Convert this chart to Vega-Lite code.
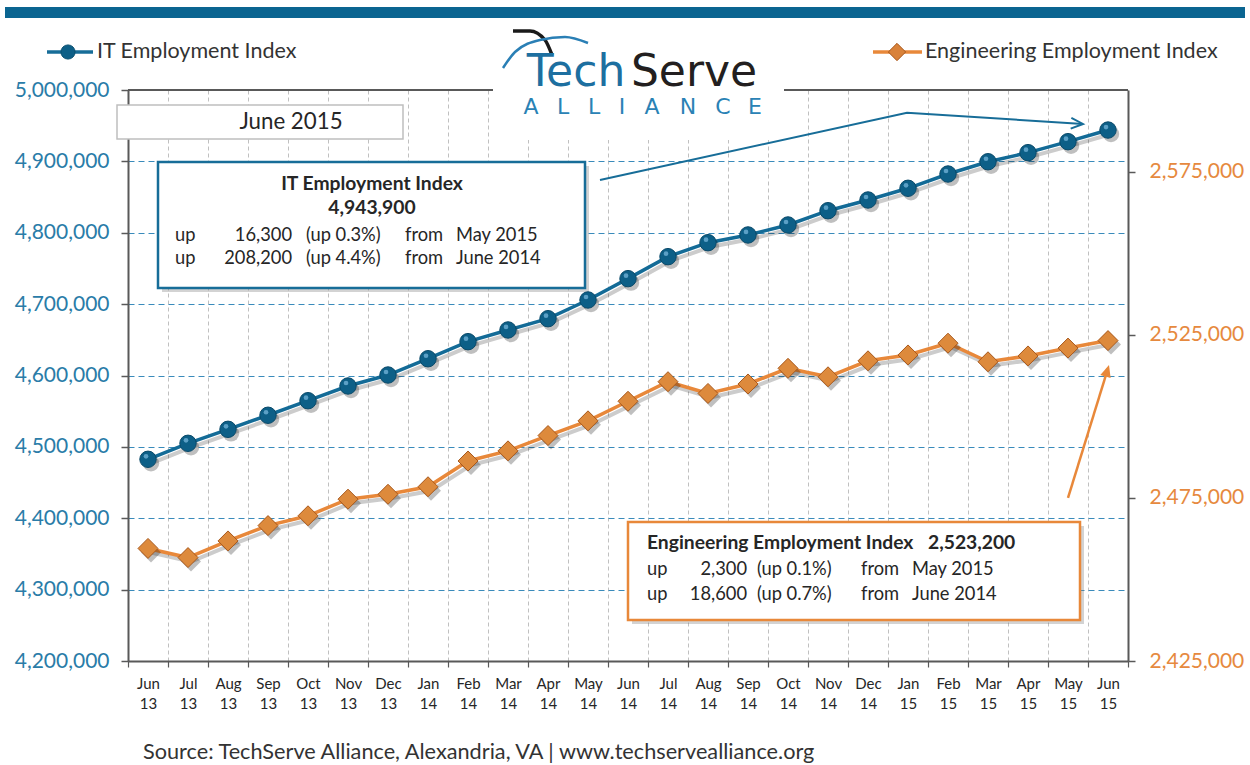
{
  "$schema": "https://vega.github.io/schema/vega-lite/v6.json",
  "width": 1000,
  "height": 571,
  "autosize": {"type": "none"},
  "padding": {"left": 128, "top": 90, "right": 122, "bottom": 104},
  "background": "white",
  "config": {"view": {"stroke": null}, "font": "Lato"},
  "datasets": {
    "series": [
      {"i": 0, "month": "Jun 13", "it": 4482600, "eng": 2459500},
      {"i": 1, "month": "Jul 13", "it": 4505000, "eng": 2456700},
      {"i": 2, "month": "Aug 13", "it": 4524600, "eng": 2461800},
      {"i": 3, "month": "Sep 13", "it": 4544300, "eng": 2466500},
      {"i": 4, "month": "Oct 13", "it": 4564700, "eng": 2469500},
      {"i": 5, "month": "Nov 13", "it": 4585300, "eng": 2474600},
      {"i": 6, "month": "Dec 13", "it": 4600700, "eng": 2476100},
      {"i": 7, "month": "Jan 14", "it": 4623500, "eng": 2478400},
      {"i": 8, "month": "Feb 14", "it": 4647400, "eng": 2486300},
      {"i": 9, "month": "Mar 14", "it": 4663800, "eng": 2489400},
      {"i": 10, "month": "Apr 14", "it": 4679600, "eng": 2494100},
      {"i": 11, "month": "May 14", "it": 4705800, "eng": 2498600},
      {"i": 12, "month": "Jun 14", "it": 4735700, "eng": 2504600},
      {"i": 13, "month": "Jul 14", "it": 4766500, "eng": 2510600},
      {"i": 14, "month": "Aug 14", "it": 4786100, "eng": 2507000},
      {"i": 15, "month": "Sep 14", "it": 4796900, "eng": 2509900},
      {"i": 16, "month": "Oct 14", "it": 4810900, "eng": 2514700},
      {"i": 17, "month": "Nov 14", "it": 4830900, "eng": 2512100},
      {"i": 18, "month": "Dec 14", "it": 4845900, "eng": 2517000},
      {"i": 19, "month": "Jan 15", "it": 4862300, "eng": 2518800},
      {"i": 20, "month": "Feb 15", "it": 4882300, "eng": 2522400},
      {"i": 21, "month": "Mar 15", "it": 4899500, "eng": 2516700},
      {"i": 22, "month": "Apr 15", "it": 4912200, "eng": 2518500},
      {"i": 23, "month": "May 15", "it": 4927600, "eng": 2520900},
      {"i": 24, "month": "Jun 15", "it": 4943900, "eng": 2523200}
    ]
  },
  "resolve": {"scale": {"y": "independent"}, "axis": {"x": "independent", "y": "independent"}},
  "layer": [
    {
      "data": {"values": [{"x1": -3.575, "x2": 27.425, "y1": 5116300, "y2": 5100900}]},
      "mark": {"type": "rect", "color": "#0b6591"},
      "encoding": {
        "x": {"field": "x1", "type": "quantitative", "axis": null},
        "x2": {"field": "x2"},
        "y": {"field": "y1", "type": "quantitative", "scale": {"domain": [4200000, 5000000], "nice": false}, "axis": null},
        "y2": {"field": "y2"}
      }
    },
    {
      "data": {"values": [{"x1": -0.5, "x2": 24.5, "y": 5000000}]},
      "mark": {"type": "rule", "color": "#595959", "strokeWidth": 2},
      "encoding": {
        "x": {"field": "x1", "type": "quantitative", "axis": null},
        "x2": {"field": "x2"},
        "y": {"field": "y", "type": "quantitative", "scale": {"domain": [4200000, 5000000], "nice": false}, "axis": null}
      }
    },
    {
      "data": {"values": [{"x1": 8.625, "x2": 15.9, "y1": 5085000, "y2": 4930000}]},
      "mark": {"type": "rect", "color": "white"},
      "encoding": {
        "x": {"field": "x1", "type": "quantitative", "axis": null},
        "x2": {"field": "x2"},
        "y": {"field": "y1", "type": "quantitative", "scale": {"domain": [4200000, 5000000], "nice": false}, "axis": null},
        "y2": {"field": "y2"}
      }
    },
    {
      "data": {"values": [
        {"x": 9.125, "y": 5082660}, {"x": 9.55, "y": 5082660}, {"x": 9.925, "y": 5070050}, {"x": 10.1, "y": 5049040}
      ]},
      "mark": {"type": "line", "color": "#1a1a1a", "strokeWidth": 3.5, "interpolate": "monotone"},
      "encoding": {
        "x": {"field": "x", "type": "quantitative", "axis": null},
        "y": {"field": "y", "type": "quantitative", "scale": {"domain": [4200000, 5000000], "nice": false}, "axis": null}
      }
    },
    {
      "data": {"values": [
        {"x": 8.875, "y": 5030820}, {"x": 9.175, "y": 5053240}, {"x": 9.8, "y": 5070050}, {"x": 10.425, "y": 5074260}, {"x": 11.0, "y": 5065850}
      ]},
      "mark": {"type": "line", "color": "#2a7fb5", "strokeWidth": 2.5, "interpolate": "monotone"},
      "encoding": {
        "x": {"field": "x", "type": "quantitative", "axis": null},
        "y": {"field": "y", "type": "quantitative", "scale": {"domain": [4200000, 5000000], "nice": false}, "axis": null}
      }
    },
    {
      "data": {"values": [{"x": 10.7, "y": 5005600, "t": "Tech"}]},
      "mark": {"type": "text", "font": "DejaVu Sans", "fontSize": 44, "color": "#1d6fa0", "align": "center", "baseline": "alphabetic"},
      "encoding": {
        "x": {"field": "x", "type": "quantitative", "axis": null},
        "y": {"field": "y", "type": "quantitative", "scale": {"domain": [4200000, 5000000], "nice": false}, "axis": null},
        "text": {"field": "t"}
      }
    },
    {
      "data": {"values": [{"x": 13.65, "y": 5005600, "t": "Serve"}]},
      "mark": {"type": "text", "font": "DejaVu Sans", "fontSize": 44, "color": "#231f20", "align": "center", "baseline": "alphabetic"},
      "encoding": {
        "x": {"field": "x", "type": "quantitative", "axis": null},
        "y": {"field": "y", "type": "quantitative", "scale": {"domain": [4200000, 5000000], "nice": false}, "axis": null},
        "text": {"field": "t"}
      }
    },
    {
      "data": {"values": [
        {"x": 9.575, "y": 4966000, "t": "A"}, {"x": 10.375, "y": 4966000, "t": "L"}, {"x": 11.15, "y": 4966000, "t": "L"},
        {"x": 11.85, "y": 4966000, "t": "I"}, {"x": 12.6, "y": 4966000, "t": "A"}, {"x": 13.5, "y": 4966000, "t": "N"},
        {"x": 14.375, "y": 4966000, "t": "C"}, {"x": 15.175, "y": 4966000, "t": "E"}
      ]},
      "mark": {"type": "text", "font": "DejaVu Sans", "fontSize": 22, "color": "#2a82b5", "align": "center", "baseline": "alphabetic"},
      "encoding": {
        "x": {"field": "x", "type": "quantitative", "axis": null},
        "y": {"field": "y", "type": "quantitative", "scale": {"domain": [4200000, 5000000], "nice": false}, "axis": null},
        "text": {"field": "t"}
      }
    },
    {
      "data": {"values": [{"x1": -0.775, "x2": 6.375, "y1": 4978984, "y2": 4931350}]},
      "mark": {"type": "rect", "fill": "white", "stroke": "#bfbfbf", "strokeWidth": 1.5},
      "encoding": {
        "x": {"field": "x1", "type": "quantitative", "axis": null},
        "x2": {"field": "x2"},
        "y": {"field": "y1", "type": "quantitative", "scale": {"domain": [4200000, 5000000], "nice": false}, "axis": null},
        "y2": {"field": "y2"}
      }
    },
    {
      "data": {"values": [{"x": 3.575, "y": 4955170, "t": "June 2015"}]},
      "mark": {"type": "text", "fontSize": 22.3, "color": "#262626", "align": "center", "baseline": "middle"},
      "encoding": {
        "x": {"field": "x", "type": "quantitative", "axis": null},
        "y": {"field": "y", "type": "quantitative", "scale": {"domain": [4200000, 5000000], "nice": false}, "axis": null},
        "text": {"field": "t"}
      }
    },
    {
      "data": {"values": [
        {"x1": 0.25, "x2": 10.925, "y1": 4899120, "y2": 4722590},
        {"x1": 12.0, "x2": 23.3, "y1": 4394750, "y2": 4257450}
      ]},
      "mark": {"type": "rect", "fill": "#808080", "opacity": 0.35, "xOffset": 4, "x2Offset": 4, "yOffset": 4, "y2Offset": 4},
      "encoding": {
        "x": {"field": "x1", "type": "quantitative", "axis": null},
        "x2": {"field": "x2"},
        "y": {"field": "y1", "type": "quantitative", "scale": {"domain": [4200000, 5000000], "nice": false}, "axis": null},
        "y2": {"field": "y2"}
      }
    },
    {
      "data": {"values": [{"x1": 0.25, "x2": 10.925, "y1": 4899120, "y2": 4722590}]},
      "mark": {"type": "rect", "fill": "white", "stroke": "#176d98", "strokeWidth": 2.5},
      "encoding": {
        "x": {"field": "x1", "type": "quantitative", "axis": null},
        "x2": {"field": "x2"},
        "y": {"field": "y1", "type": "quantitative", "scale": {"domain": [4200000, 5000000], "nice": false}, "axis": null},
        "y2": {"field": "y2"}
      }
    },
    {
      "data": {"values": [{"x1": 12.0, "x2": 23.3, "y1": 4394750, "y2": 4257450}]},
      "mark": {"type": "rect", "fill": "white", "stroke": "#e8883a", "strokeWidth": 2.5},
      "encoding": {
        "x": {"field": "x1", "type": "quantitative", "axis": null},
        "x2": {"field": "x2"},
        "y": {"field": "y1", "type": "quantitative", "scale": {"domain": [4200000, 5000000], "nice": false}, "axis": null},
        "y2": {"field": "y2"}
      }
    },
    {
      "data": {"values": [
        {"x": 5.6, "y": 4868300, "t": "IT Employment Index"},
        {"x": 5.6, "y": 4834680, "t": "4,943,900"}
      ]},
      "mark": {"type": "text", "fontSize": 19.3, "fontWeight": "bold", "color": "#262626", "align": "center", "baseline": "middle"},
      "encoding": {
        "x": {"field": "x", "type": "quantitative", "axis": null},
        "y": {"field": "y", "type": "quantitative", "scale": {"domain": [4200000, 5000000], "nice": false}, "axis": null},
        "text": {"field": "t"}
      }
    },
    {
      "data": {"values": [
        {"x": 12.475, "y": 4365330, "t": "Engineering Employment Index"},
        {"x": 19.5, "y": 4365330, "t": "2,523,200"}
      ]},
      "mark": {"type": "text", "fontSize": 19.3, "fontWeight": "bold", "color": "#262626", "align": "left", "baseline": "middle"},
      "encoding": {
        "x": {"field": "x", "type": "quantitative", "axis": null},
        "y": {"field": "y", "type": "quantitative", "scale": {"domain": [4200000, 5000000], "nice": false}, "axis": null},
        "text": {"field": "t"}
      }
    },
    {
      "data": {"values": [
        {"x": 0.675, "y": 4795450, "t": "up"},
        {"x": 0.675, "y": 4763220, "t": "up"},
        {"x": 3.95, "y": 4795450, "t": "(up 0.3%)"},
        {"x": 3.95, "y": 4763220, "t": "(up 4.4%)"},
        {"x": 6.425, "y": 4795450, "t": "from"},
        {"x": 6.425, "y": 4763220, "t": "from"},
        {"x": 7.7, "y": 4795450, "t": "May 2015"},
        {"x": 7.7, "y": 4763220, "t": "June 2014"},
        {"x": 12.475, "y": 4327500, "t": "up"},
        {"x": 12.475, "y": 4292470, "t": "up"},
        {"x": 15.225, "y": 4327500, "t": "(up 0.1%)"},
        {"x": 15.225, "y": 4292470, "t": "(up 0.7%)"},
        {"x": 17.825, "y": 4327500, "t": "from"},
        {"x": 17.825, "y": 4292470, "t": "from"},
        {"x": 19.1, "y": 4327500, "t": "May 2015"},
        {"x": 19.1, "y": 4292470, "t": "June 2014"}
      ]},
      "mark": {"type": "text", "fontSize": 18.3, "color": "#262626", "align": "left", "baseline": "middle"},
      "encoding": {
        "x": {"field": "x", "type": "quantitative", "axis": null},
        "y": {"field": "y", "type": "quantitative", "scale": {"domain": [4200000, 5000000], "nice": false}, "axis": null},
        "text": {"field": "t"}
      }
    },
    {
      "data": {"values": [
        {"x": 3.6, "y": 4795450, "t": "16,300"},
        {"x": 3.6, "y": 4763220, "t": "208,200"},
        {"x": 14.975, "y": 4327500, "t": "2,300"},
        {"x": 14.975, "y": 4292470, "t": "18,600"}
      ]},
      "mark": {"type": "text", "fontSize": 18.3, "color": "#262626", "align": "right", "baseline": "middle"},
      "encoding": {
        "x": {"field": "x", "type": "quantitative", "axis": null},
        "y": {"field": "y", "type": "quantitative", "scale": {"domain": [4200000, 5000000], "nice": false}, "axis": null},
        "text": {"field": "t"}
      }
    },
    {
      "data": {"values": [
        {"x": 11.3, "y": 4873900}, {"x": 18.975, "y": 4968200}, {"x": 23.375, "y": 4952400}
      ]},
      "mark": {"type": "line", "color": "#176d98", "strokeWidth": 2},
      "encoding": {
        "x": {"field": "x", "type": "quantitative", "axis": null},
        "y": {"field": "y", "type": "quantitative", "scale": {"domain": [4200000, 5000000], "nice": false}, "axis": null}
      }
    },
    {
      "data": {"values": [{"x": 23.375, "y": 4952400}]},
      "mark": {"type": "point", "shape": "M-1,-0.45L0,0L-1,0.45", "filled": false, "stroke": "#176d98", "strokeWidth": 2, "size": 576, "angle": 3.7, "opacity": 1},
      "encoding": {
        "x": {"field": "x", "type": "quantitative", "axis": null},
        "y": {"field": "y", "type": "quantitative", "scale": {"domain": [4200000, 5000000], "nice": false}, "axis": null}
      }
    },
    {
      "data": {"values": [
        {"x": 23.0, "y": 4428400}, {"x": 24.0, "y": 4610000}
      ]},
      "mark": {"type": "line", "color": "#e8883a", "strokeWidth": 2.5},
      "encoding": {
        "x": {"field": "x", "type": "quantitative", "axis": null},
        "y": {"field": "y", "type": "quantitative", "scale": {"domain": [4200000, 5000000], "nice": false}, "axis": null}
      }
    },
    {
      "data": {"values": [{"x": 24.025, "y": 4614700}]},
      "mark": {"type": "point", "shape": "M0,0L0.45,1L-0.45,1Z", "filled": true, "fill": "#e8883a", "size": 576, "angle": 17, "opacity": 1},
      "encoding": {
        "x": {"field": "x", "type": "quantitative", "axis": null},
        "y": {"field": "y", "type": "quantitative", "scale": {"domain": [4200000, 5000000], "nice": false}, "axis": null}
      }
    },
    {
      "data": {"values": [{"x1": -2.525, "x2": -1.375, "y": 5053240}]},
      "mark": {"type": "rule", "color": "#176d98", "strokeWidth": 3.5},
      "encoding": {
        "x": {"field": "x1", "type": "quantitative", "axis": null},
        "x2": {"field": "x2"},
        "y": {"field": "y", "type": "quantitative", "scale": {"domain": [4200000, 5000000], "nice": false}, "axis": null}
      }
    },
    {
      "data": {"values": [{"x": -2.0, "y": 5053240}]},
      "mark": {"type": "point", "shape": "circle", "filled": true, "fill": "#0d5f87", "stroke": "#0a4f70", "strokeWidth": 1, "size": 200, "opacity": 1},
      "encoding": {
        "x": {"field": "x", "type": "quantitative", "axis": null},
        "y": {"field": "y", "type": "quantitative", "scale": {"domain": [4200000, 5000000], "nice": false}, "axis": null}
      }
    },
    {
      "data": {"values": [{"x1": 18.125, "x2": 19.35, "y": 5053240}]},
      "mark": {"type": "rule", "color": "#e8883a", "strokeWidth": 3.5},
      "encoding": {
        "x": {"field": "x1", "type": "quantitative", "axis": null},
        "x2": {"field": "x2"},
        "y": {"field": "y", "type": "quantitative", "scale": {"domain": [4200000, 5000000], "nice": false}, "axis": null}
      }
    },
    {
      "data": {"values": [{"x": 18.725, "y": 5053240}]},
      "mark": {"type": "point", "shape": "diamond", "filled": true, "fill": "#d9823a", "stroke": "#a8581c", "strokeWidth": 1, "size": 300, "opacity": 1},
      "encoding": {
        "x": {"field": "x", "type": "quantitative", "axis": null},
        "y": {"field": "y", "type": "quantitative", "scale": {"domain": [4200000, 5000000], "nice": false}, "axis": null}
      }
    },
    {
      "data": {"values": [
        {"x": -1.275, "y": 5053240, "t": "IT Employment Index"},
        {"x": 19.425, "y": 5053240, "t": "Engineering Employment Index"}
      ]},
      "mark": {"type": "text", "fontSize": 21.5, "color": "#333333", "align": "left", "baseline": "middle"},
      "encoding": {
        "x": {"field": "x", "type": "quantitative", "axis": null},
        "y": {"field": "y", "type": "quantitative", "scale": {"domain": [4200000, 5000000], "nice": false}, "axis": null},
        "text": {"field": "t"}
      }
    },
    {
      "data": {"values": [
        {"x": -0.125, "y": 4072500, "t": "Source: TechServe Alliance, Alexandria, VA | www.techservealliance.org"}
      ]},
      "mark": {"type": "text", "fontSize": 21.7, "color": "#333333", "align": "left", "baseline": "middle"},
      "encoding": {
        "x": {"field": "x", "type": "quantitative", "axis": null},
        "y": {"field": "y", "type": "quantitative", "scale": {"domain": [4200000, 5000000], "nice": false}, "axis": null},
        "text": {"field": "t"}
      }
    },
    {
      "data": {"name": "series"},
      "mark": {"type": "line", "color": "#000000", "opacity": 0.2, "strokeWidth": 4, "xOffset": 3, "yOffset": 4},
      "encoding": {
        "x": {
          "field": "i", "type": "quantitative",
          "axis": {
            "orient": "bottom", "title": null,
            "values": [-0.5, 0.5, 1.5, 2.5, 3.5, 4.5, 5.5, 6.5, 7.5, 8.5, 9.5, 10.5, 11.5, 12.5, 13.5, 14.5, 15.5, 16.5, 17.5, 18.5, 19.5, 20.5, 21.5, 22.5, 23.5, 24.5],
            "labels": false, "domain": false,
            "ticks": true, "tickSize": 6, "tickColor": "#595959", "tickWidth": 1.2,
            "grid": true, "gridColor": "#c0c0c0", "gridDash": [4, 3], "gridWidth": 1
          }
        },
        "y": {"field": "it", "type": "quantitative", "scale": {"domain": [4200000, 5000000], "nice": false}, "axis": null}
      }
    },
    {
      "data": {"name": "series"},
      "mark": {"type": "line", "color": "#136b97", "strokeWidth": 3.5},
      "encoding": {
        "x": {
          "field": "i", "type": "quantitative",
          "scale": {"domain": [-0.5, 24.5], "nice": false, "zero": false},
          "axis": {
            "orient": "bottom", "title": null,
            "values": [0, 1, 2, 3, 4, 5, 6, 7, 8, 9, 10, 11, 12, 13, 14, 15, 16, 17, 18, 19, 20, 21, 22, 23, 24],
            "labelExpr": "[['Jun','Jul','Aug','Sep','Oct','Nov','Dec','Jan','Feb','Mar','Apr','May'][datum.value % 12], '' + (13 + floor((datum.value + 5) / 12))]",
            "labelFont": "Lato", "labelFontSize": 15, "labelColor": "#262626", "labelLineHeight": 20,
            "labelPadding": 15, "labelAngle": 0, "labelBaseline": "top", "labelFlush": false, "labelOverlap": false, "labelBound": false,
            "ticks": false, "tickSize": 0,
            "domain": true, "domainColor": "#595959", "domainWidth": 2,
            "grid": false
          }
        },
        "y": {
          "field": "it", "type": "quantitative",
          "scale": {"domain": [4200000, 5000000], "nice": false},
          "axis": {
            "orient": "left", "title": null,
            "values": [4200000, 4300000, 4400000, 4500000, 4600000, 4700000, 4800000, 4900000, 5000000],
            "labelExpr": "format(datum.value, ',')", "labelFont": "Lato", "labelFontSize": 21, "labelColor": "#2a7ca8", "labelPadding": 12,
            "tickSize": 7, "tickColor": "#595959", "tickWidth": 1.5,
            "domainColor": "#595959", "domainWidth": 2,
            "grid": true, "gridColor": "#3a8bbb", "gridDash": [6, 4], "gridWidth": 1.2
          }
        }
      }
    },
    {
      "data": {"name": "series"},
      "mark": {"type": "point", "shape": "circle", "filled": true, "fill": "#000000", "opacity": 0.25, "size": 270, "xOffset": 3, "yOffset": 4},
      "encoding": {
        "x": {"field": "i", "type": "quantitative", "axis": null},
        "y": {"field": "it", "type": "quantitative", "scale": {"domain": [4200000, 5000000], "nice": false}, "axis": null}
      }
    },
    {
      "data": {"name": "series"},
      "mark": {"type": "point", "shape": "circle", "filled": true, "fill": "#0d5f87", "stroke": "#0a4a6a", "strokeWidth": 1, "size": 270, "opacity": 1},
      "encoding": {
        "x": {"field": "i", "type": "quantitative", "axis": null},
        "y": {"field": "it", "type": "quantitative", "scale": {"domain": [4200000, 5000000], "nice": false}, "axis": null}
      }
    },
    {
      "data": {"name": "series"},
      "mark": {"type": "point", "shape": "circle", "filled": true, "fill": "#6fb0d6", "size": 22, "opacity": 0.8, "xOffset": -2, "yOffset": -3},
      "encoding": {
        "x": {"field": "i", "type": "quantitative", "axis": null},
        "y": {"field": "it", "type": "quantitative", "scale": {"domain": [4200000, 5000000], "nice": false}, "axis": null}
      }
    },
    {
      "data": {"name": "series"},
      "mark": {"type": "line", "color": "#000000", "opacity": 0.2, "strokeWidth": 4, "xOffset": 3, "yOffset": 4},
      "encoding": {
        "x": {"field": "i", "type": "quantitative", "axis": null},
        "y": {"field": "eng", "type": "quantitative", "scale": {"domain": [2425000, 2600000], "nice": false}, "axis": null}
      }
    },
    {
      "data": {"name": "series"},
      "mark": {"type": "line", "color": "#e8883a", "strokeWidth": 3.5},
      "encoding": {
        "x": {"field": "i", "type": "quantitative", "axis": null},
        "y": {
          "field": "eng", "type": "quantitative",
          "scale": {"domain": [2425000, 2600000], "nice": false},
          "axis": {
            "orient": "right", "title": null,
            "values": [2425000, 2475000, 2525000, 2575000],
            "labelExpr": "format(datum.value, ',')", "labelFont": "Lato", "labelFontSize": 21, "labelColor": "#e6893e", "labelPadding": 14,
            "tickSize": 7, "tickColor": "#595959", "tickWidth": 1.5,
            "domainColor": "#595959", "domainWidth": 2, "grid": false
          }
        }
      }
    },
    {
      "data": {"name": "series"},
      "mark": {"type": "point", "shape": "diamond", "filled": true, "fill": "#000000", "opacity": 0.25, "size": 400, "xOffset": 3, "yOffset": 4},
      "encoding": {
        "x": {"field": "i", "type": "quantitative", "axis": null},
        "y": {"field": "eng", "type": "quantitative", "scale": {"domain": [2425000, 2600000], "nice": false}, "axis": null}
      }
    },
    {
      "data": {"name": "series"},
      "mark": {"type": "point", "shape": "diamond", "filled": true, "fill": "#dd8a3c", "stroke": "#a8581c", "strokeWidth": 1, "size": 400, "opacity": 1},
      "encoding": {
        "x": {"field": "i", "type": "quantitative", "axis": null},
        "y": {"field": "eng", "type": "quantitative", "scale": {"domain": [2425000, 2600000], "nice": false}, "axis": null}
      }
    }
  ]
}
